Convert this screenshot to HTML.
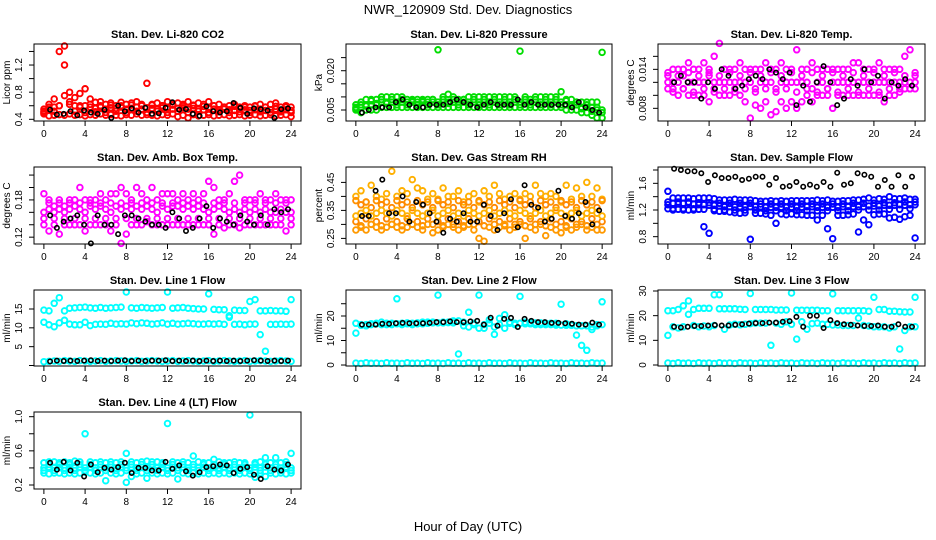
<!DOCTYPE html>
<html><head><meta charset="utf-8">
<style>
body{margin:0;background:#fff;}
svg{display:block;font-family:"Liberation Sans",Arial,sans-serif;}
</style></head>
<body>
<svg id="c" width="936" height="540" viewBox="0 0 936 540">
<text x="468" y="14" text-anchor="middle" font-size="13">NWR_120909  Std. Dev. Diagnostics</text>
<text x="468" y="531" text-anchor="middle" font-size="13">Hour of Day (UTC)</text>
</svg>
<script>
const hours = Array.from({length:49},(_,i)=>i*0.5);
const bHours = Array.from({length:36},(_,i)=>0.6+i*0.66);
const xTicks = [0,4,8,12,16,20,24];

const co2Hi=[0.55,0.62,0.70,1.40,1.48,0.80,0.72,0.78,0.85,0.70,0.65,0.66,0.62,0.64,0.60,0.65,0.62,0.64,0.66,0.62,0.93,0.62,0.64,0.60,0.66,0.62,0.64,0.62,0.66,0.60,0.64,0.62,0.66,0.60,0.62,0.58,0.60,0.62,0.58,0.60,0.58,0.60,0.62,0.58,0.62,0.64,0.58,0.60,0.58];
const co2Q=[0.50,0.58,0.52,0.60,0.75,0.66,0.52,0.60,0.50,0.62,0.51,0.60,0.50,0.61,0.52,0.60,0.50,0.61,0.52,0.60,0.50,0.61,0.52,0.60,0.50,0.61,0.52,0.60,0.50,0.61,0.52,0.59,0.50,0.60,0.51,0.58,0.50,0.59,0.51,0.58,0.50,0.59,0.51,0.58,0.50,0.59,0.51,0.58,0.50];
const co2Mid=[0.52,0.55,0.58,0.60,1.20,0.62,0.60,0.58,0.60,0.58,0.56,0.58,0.55,0.57,0.56,0.58,0.55,0.56,0.58,0.55,0.57,0.56,0.55,0.57,0.56,0.55,0.56,0.57,0.55,0.56,0.55,0.54,0.56,0.55,0.54,0.55,0.54,0.53,0.55,0.54,0.53,0.54,0.55,0.53,0.54,0.55,0.53,0.54,0.53];
const co2Lo=[0.48,0.45,0.46,0.47,0.46,0.48,0.46,0.47,0.45,0.47,0.46,0.48,0.46,0.47,0.46,0.45,0.47,0.46,0.48,0.46,0.47,0.46,0.45,0.47,0.46,0.48,0.44,0.46,0.42,0.47,0.45,0.46,0.47,0.45,0.46,0.47,0.45,0.46,0.47,0.45,0.46,0.47,0.45,0.46,0.47,0.45,0.46,0.47,0.44];
const co2Blk=[0.54,0.47,0.48,0.52,0.46,0.53,0.50,0.48,0.54,0.42,0.60,0.52,0.56,0.50,0.57,0.48,0.49,0.57,0.65,0.54,0.55,0.48,0.45,0.59,0.52,0.50,0.52,0.64,0.57,0.48,0.56,0.55,0.53,0.42,0.55,0.56];

const pHi=[0.007,0.008,0.009,0.009,0.009,0.010,0.010,0.010,0.010,0.010,0.009,0.009,0.009,0.009,0.009,0.009,0.028,0.010,0.011,0.010,0.009,0.009,0.010,0.010,0.010,0.010,0.010,0.010,0.010,0.010,0.010,0.010,0.0275,0.010,0.009,0.010,0.010,0.010,0.010,0.010,0.012,0.009,0.009,0.008,0.008,0.008,0.008,0.008,0.027];
const pQ=[0.0055,0.007,0.0065,0.0085,0.0075,0.009,0.0075,0.009,0.007,0.009,0.007,0.0085,0.007,0.0085,0.007,0.009,0.007,0.009,0.0075,0.009,0.007,0.009,0.007,0.009,0.007,0.009,0.007,0.009,0.007,0.009,0.007,0.009,0.007,0.009,0.007,0.009,0.007,0.009,0.007,0.009,0.007,0.0085,0.0065,0.008,0.0055,0.007,0.0045,0.006,0.004];
const pMid=[0.006,0.006,0.007,0.007,0.007,0.008,0.008,0.008,0.008,0.008,0.008,0.008,0.008,0.008,0.008,0.008,0.008,0.008,0.008,0.008,0.008,0.008,0.008,0.008,0.008,0.008,0.008,0.008,0.008,0.008,0.008,0.008,0.008,0.008,0.008,0.008,0.008,0.008,0.008,0.008,0.008,0.007,0.007,0.007,0.006,0.006,0.006,0.005,0.005];
const pLo=[0.005,0.004,0.005,0.005,0.005,0.006,0.006,0.006,0.006,0.006,0.006,0.006,0.006,0.006,0.006,0.006,0.006,0.006,0.006,0.006,0.006,0.006,0.006,0.006,0.006,0.006,0.006,0.006,0.006,0.006,0.006,0.006,0.006,0.006,0.006,0.006,0.006,0.006,0.006,0.006,0.006,0.005,0.005,0.005,0.004,0.004,0.003,0.002,0.002];
const pBlk=[0.004,0.005,0.006,0.006,0.006,0.008,0.009,0.007,0.006,0.006,0.007,0.007,0.007,0.008,0.009,0.008,0.007,0.006,0.007,0.008,0.007,0.007,0.007,0.009,0.007,0.008,0.007,0.007,0.007,0.007,0.007,0.006,0.008,0.006,0.005,0.004];

const tHi=[0.013,0.014,0.014,0.014,0.015,0.014,0.014,0.015,0.014,0.016,0.018,0.014,0.014,0.014,0.015,0.014,0.014,0.014,0.014,0.015,0.014,0.014,0.015,0.014,0.014,0.017,0.014,0.014,0.015,0.014,0.014,0.014,0.014,0.014,0.014,0.014,0.015,0.015,0.014,0.014,0.014,0.015,0.014,0.014,0.014,0.014,0.016,0.017,0.013];
const tQ=[0.0135,0.0105,0.013,0.011,0.0135,0.0105,0.013,0.011,0.0135,0.0105,0.013,0.011,0.0135,0.0105,0.013,0.011,0.0135,0.0105,0.013,0.011,0.0135,0.0105,0.013,0.011,0.0135,0.0105,0.013,0.011,0.0135,0.0105,0.013,0.011,0.0135,0.0105,0.013,0.011,0.0135,0.0105,0.013,0.011,0.0135,0.0105,0.013,0.011,0.0135,0.0105,0.013,0.011,0.0135];
const tMid=[0.012,0.012,0.012,0.013,0.012,0.012,0.012,0.012,0.013,0.012,0.012,0.012,0.012,0.012,0.012,0.012,0.012,0.011,0.012,0.012,0.012,0.011,0.012,0.012,0.012,0.012,0.012,0.012,0.011,0.012,0.012,0.011,0.012,0.012,0.012,0.012,0.012,0.012,0.012,0.012,0.012,0.012,0.012,0.012,0.012,0.012,0.012,0.012,0.012];
const tLo=[0.011,0.011,0.010,0.011,0.010,0.010,0.010,0.010,0.009,0.011,0.010,0.010,0.010,0.011,0.010,0.009,0.0065,0.0085,0.008,0.009,0.007,0.0075,0.009,0.008,0.009,0.008,0.009,0.010,0.009,0.010,0.010,0.010,0.008,0.010,0.010,0.010,0.010,0.010,0.010,0.010,0.010,0.010,0.009,0.010,0.010,0.011,0.011,0.011,0.011];
const tBlk=[0.012,0.013,0.012,0.012,0.0095,0.012,0.011,0.014,0.013,0.011,0.0115,0.0125,0.013,0.0125,0.014,0.0135,0.0125,0.0135,0.0085,0.0115,0.009,0.012,0.0145,0.012,0.0085,0.0095,0.0125,0.0115,0.014,0.012,0.013,0.0095,0.012,0.0115,0.0125,0.0115];

const aHi=[0.19,0.18,0.17,0.18,0.17,0.18,0.18,0.20,0.18,0.18,0.18,0.19,0.18,0.19,0.19,0.20,0.19,0.18,0.20,0.19,0.18,0.20,0.18,0.19,0.19,0.19,0.18,0.19,0.18,0.19,0.18,0.19,0.21,0.20,0.18,0.18,0.19,0.21,0.22,0.18,0.18,0.18,0.19,0.18,0.18,0.19,0.18,0.18,0.18];
const aQ=[0.15,0.175,0.15,0.175,0.15,0.175,0.15,0.175,0.15,0.175,0.15,0.175,0.15,0.175,0.15,0.175,0.15,0.175,0.15,0.175,0.15,0.175,0.15,0.175,0.15,0.175,0.15,0.175,0.15,0.175,0.15,0.175,0.15,0.175,0.15,0.175,0.15,0.175,0.15,0.175,0.15,0.175,0.15,0.175,0.15,0.175,0.15,0.175,0.15];
const aMid=[0.16,0.165,0.16,0.165,0.16,0.165,0.17,0.165,0.16,0.17,0.165,0.17,0.165,0.16,0.17,0.165,0.17,0.165,0.17,0.165,0.17,0.165,0.16,0.17,0.165,0.17,0.17,0.165,0.17,0.165,0.17,0.165,0.16,0.165,0.17,0.165,0.16,0.165,0.16,0.165,0.16,0.165,0.16,0.165,0.16,0.16,0.165,0.16,0.16];
const aLo=[0.14,0.13,0.14,0.125,0.14,0.14,0.14,0.14,0.13,0.14,0.14,0.14,0.14,0.13,0.14,0.11,0.125,0.14,0.14,0.14,0.145,0.14,0.14,0.14,0.14,0.14,0.14,0.14,0.14,0.14,0.14,0.14,0.14,0.125,0.14,0.135,0.14,0.14,0.135,0.14,0.14,0.14,0.14,0.14,0.14,0.14,0.14,0.13,0.14];
const aBlk=[0.155,0.135,0.145,0.15,0.155,0.14,0.11,0.155,0.14,0.14,0.125,0.155,0.155,0.15,0.145,0.14,0.14,0.135,0.16,0.15,0.13,0.135,0.15,0.17,0.135,0.15,0.145,0.14,0.155,0.145,0.14,0.155,0.14,0.165,0.16,0.165];

const rHi=[0.40,0.42,0.38,0.44,0.40,0.39,0.41,0.49,0.40,0.42,0.41,0.46,0.43,0.42,0.39,0.41,0.39,0.43,0.40,0.40,0.42,0.38,0.40,0.41,0.38,0.42,0.40,0.44,0.41,0.39,0.40,0.41,0.39,0.41,0.40,0.44,0.41,0.40,0.41,0.40,0.38,0.44,0.39,0.43,0.40,0.45,0.40,0.43,0.39];
const rQ=[0.31,0.37,0.32,0.36,0.31,0.37,0.32,0.36,0.31,0.37,0.32,0.36,0.31,0.37,0.32,0.36,0.31,0.37,0.32,0.36,0.31,0.37,0.32,0.36,0.31,0.37,0.32,0.36,0.31,0.37,0.32,0.36,0.31,0.37,0.32,0.36,0.31,0.37,0.32,0.36,0.31,0.37,0.32,0.36,0.31,0.37,0.32,0.36,0.31];
const rQ2=[0.385,0.295,0.38,0.30,0.385,0.295,0.38,0.30,0.385,0.295,0.38,0.30,0.385,0.295,0.38,0.30,0.385,0.295,0.38,0.30,0.385,0.295,0.38,0.30,0.385,0.295,0.38,0.30,0.385,0.295,0.38,0.30,0.385,0.295,0.38,0.30,0.385,0.295,0.38,0.30,0.385,0.295,0.38,0.30,0.385,0.295,0.38,0.30,0.385];
const rMid=[0.33,0.34,0.35,0.33,0.34,0.35,0.34,0.33,0.35,0.34,0.33,0.35,0.34,0.33,0.34,0.35,0.33,0.34,0.35,0.33,0.34,0.33,0.35,0.34,0.33,0.34,0.35,0.33,0.34,0.35,0.34,0.33,0.35,0.34,0.33,0.34,0.35,0.33,0.34,0.35,0.34,0.33,0.34,0.35,0.33,0.34,0.35,0.34,0.33];
const rLo=[0.28,0.29,0.28,0.30,0.29,0.28,0.29,0.30,0.29,0.28,0.29,0.30,0.29,0.28,0.30,0.27,0.28,0.29,0.30,0.29,0.28,0.29,0.30,0.28,0.25,0.24,0.29,0.28,0.29,0.30,0.28,0.29,0.30,0.25,0.29,0.28,0.30,0.26,0.29,0.28,0.27,0.29,0.28,0.29,0.30,0.28,0.29,0.28,0.28];
const rBlk=[0.33,0.33,0.42,0.46,0.34,0.34,0.40,0.31,0.38,0.37,0.34,0.31,0.27,0.32,0.31,0.34,0.31,0.31,0.37,0.33,0.28,0.34,0.39,0.29,0.44,0.37,0.36,0.31,0.32,0.42,0.33,0.32,0.34,0.38,0.30,0.35];

const sHi=[1.48,1.38,1.38,1.38,1.38,1.37,1.38,1.38,1.38,1.37,1.35,1.35,1.35,1.36,1.35,1.35,1.35,1.34,1.33,1.33,1.34,1.33,1.34,1.33,1.34,1.34,1.34,1.34,1.34,1.35,1.34,1.35,1.33,1.33,1.34,1.34,1.35,1.35,1.36,1.38,1.35,1.37,1.36,1.40,1.37,1.37,1.38,1.36,1.36];
const sQ=[1.32,1.22,1.32,1.22,1.32,1.22,1.31,1.21,1.31,1.21,1.30,1.20,1.30,1.20,1.30,1.20,1.30,1.20,1.29,1.19,1.29,1.19,1.29,1.19,1.29,1.19,1.29,1.19,1.29,1.19,1.29,1.19,1.29,1.19,1.29,1.19,1.30,1.20,1.30,1.20,1.30,1.20,1.31,1.21,1.31,1.21,1.32,1.22,1.32];
const sMid=[1.28,1.30,1.29,1.30,1.30,1.29,1.28,1.28,1.27,1.27,1.26,1.25,1.25,1.25,1.25,1.25,1.25,1.25,1.25,1.24,1.24,1.24,1.24,1.24,1.24,1.24,1.24,1.25,1.25,1.24,1.24,1.24,1.24,1.24,1.25,1.25,1.25,1.25,1.25,1.26,1.26,1.26,1.27,1.27,1.27,1.28,1.27,1.28,1.28];
const sLo=[1.22,1.20,1.21,1.20,1.20,1.20,1.21,0.95,0.85,1.19,1.18,1.18,1.17,1.16,1.15,1.16,0.76,1.15,1.15,1.14,1.12,1.00,1.14,1.13,1.14,1.13,1.13,1.12,1.12,1.05,1.12,0.92,0.77,1.12,1.12,1.13,1.14,0.87,1.05,0.98,1.13,1.14,1.14,1.08,1.09,1.06,1.10,1.12,0.78];
const sBlk=[1.82,1.80,1.78,1.78,1.75,1.62,1.72,1.68,1.68,1.70,1.65,1.67,1.70,1.70,1.58,1.68,1.55,1.56,1.62,1.55,1.58,1.55,1.62,1.55,1.76,1.58,1.60,1.75,1.73,1.70,1.55,1.65,1.55,1.72,1.55,1.70];

const l1A=[14.7,14.5,16.5,18,14.5,15.2,15.3,15.4,15.5,15.3,15.2,15.4,15.2,15.3,15.4,15.5,19.5,15.3,15.2,15.4,15.3,15.2,15.3,15.4,19.5,15.2,15.3,15.4,15.2,15.1,15.0,15.0,19.0,14.9,14.8,14.8,13.2,14.7,14.6,14.6,17,17.5,14.5,14.5,14.6,14.5,14.5,14.4,17.5];
const l1B=[11.5,10.8,10.3,11.3,12.0,11.0,10.8,10.8,11.5,10.6,10.9,11.0,10.9,11.2,11.0,11.1,11.0,11.3,11.1,11.3,11.2,11.0,11.1,11.3,11.0,11.2,11.0,11.1,11.2,11.1,11.0,11.0,11.1,11.0,11.1,10.9,12.8,10.9,11.0,10.8,11.0,11.0,8.2,3.8,10.9,10.9,11.0,10.9,11.0];
const l1C=[1.0,1.1,1.2,1.1,1.3,1.2,1.1,1.3,1.2,1.1,1.2,1.3,1.1,1.2,1.3,1.2,1.1,1.2,1.3,1.1,1.2,1.3,1.2,1.1,1.2,1.3,1.1,1.2,1.3,1.2,1.1,1.2,1.3,1.1,1.2,1.3,1.2,1.1,1.2,1.3,1.1,1.2,1.3,1.2,1.1,1.2,1.3,1.2,1.1];
const l1Blk=[1.1,1.3,1.2,1.3,1.2,1.3,1.4,1.2,1.3,1.2,1.3,1.4,1.2,1.3,1.2,1.3,1.3,1.4,1.2,1.3,1.2,1.3,1.2,1.3,1.2,1.3,1.2,1.3,1.2,1.3,1.4,1.3,1.2,1.3,1.2,1.3];

const l2A=[17,16.5,16.5,16.8,17,17.5,17,17,16.8,17,17.2,17,17.2,17.5,17.5,17.5,28.5,17.5,17.5,18,18,17.5,21.5,16.5,28.5,15,18.5,12.5,19,15,17.5,17,28,17.5,17.3,17.2,17.2,17,17,17,24.8,16.8,16.5,12.2,8,6,14.5,16.5,25.8];
const l2B=[13,16.2,16,16.5,16.8,16.5,16.5,16.5,27,16.5,16.8,16.5,16.8,16.8,17,17.2,17.2,17.2,17.3,17.2,4.5,16,15.5,17,15,16.5,17,15.5,16.5,20.5,17,16.5,17,16.8,16.8,16.5,16.5,16.5,16.5,16.3,16.3,16.2,16.2,16,16,16,15.5,16,16.5];
const l2C=[0.8,0.6,0.9,0.7,0.8,0.6,0.9,0.7,0.8,0.6,0.9,0.7,0.8,0.6,0.9,0.7,0.8,0.6,0.9,0.7,0.8,0.6,0.9,0.7,0.8,0.6,0.9,0.7,0.8,0.6,0.9,0.7,0.8,0.6,0.9,0.7,0.8,0.6,0.9,0.7,0.8,0.6,0.9,0.7,0.8,0.6,0.9,0.7,0.8];
const l2Blk=[16.5,16.5,16.5,16.8,16.8,17,17.2,17,17,17,17.2,17.5,17.5,17.8,17.5,17.5,17.8,18,16.5,19.3,16,18.8,19.2,15.5,18.8,18,17.5,17.5,17.2,17.2,17,16.8,16.5,16.5,17.3,16.5];

const l3A=[22,22,22.5,24,26,22.5,23,23,23,28.5,22.8,22.8,22.8,22.8,22.6,22.5,29,22.5,22.5,22.5,22.5,22.3,22.3,22.3,29.2,22.2,22.2,22.2,22.2,22.2,22,22,28.8,22,22,22,22,22,22,21.8,27.5,22.5,22.5,21.8,21.8,21.6,21.5,21.5,27.5];
const l3B=[12,15.5,15,15.5,20.5,16,15.5,15.8,15.5,16,28.5,14.5,16.2,16.5,16.3,16.5,16.8,17,17,17,8,17,16.5,17.5,16.5,10.5,17.5,14.5,16.8,17,16.5,16.5,16.2,16.2,16,16,16,19,16,15.8,15.5,15.5,15.5,15,15.5,6.5,14,15.5,15.5];
const l3C=[0.8,0.6,0.9,0.7,0.8,0.6,0.9,0.7,0.8,0.6,0.9,0.7,0.8,0.6,0.9,0.7,0.8,0.6,0.9,0.7,0.8,0.6,0.9,0.7,0.8,0.6,0.9,0.7,0.8,0.6,0.9,0.7,0.8,0.6,0.9,0.7,0.8,0.6,0.9,0.7,0.8,0.6,0.9,0.7,0.8,0.6,0.9,0.7,0.8];
const l3Blk=[15.5,15.2,15.5,15.8,15.8,16,16.2,16,16,16.3,16.5,16.8,17,17,17.2,17.2,17.5,17.8,19.5,15.5,20,20,15,18.2,17,16.5,16.3,16,15.8,15.8,16,15.5,15.5,16.5,15.5,15.5];

const l4A=[0.46,0.47,0.47,0.46,0.47,0.46,0.48,0.47,0.8,0.47,0.46,0.47,0.46,0.47,0.46,0.47,0.57,0.47,0.46,0.47,0.48,0.47,0.47,0.46,0.92,0.47,0.46,0.47,0.46,0.54,0.47,0.46,0.46,0.50,0.47,0.46,0.46,0.47,0.46,0.46,1.02,0.46,0.47,0.52,0.46,0.52,0.46,0.47,0.57];
const l4Q=[0.37,0.44,0.37,0.44,0.37,0.44,0.37,0.44,0.37,0.44,0.37,0.44,0.37,0.44,0.37,0.44,0.37,0.44,0.37,0.44,0.37,0.44,0.37,0.44,0.37,0.44,0.37,0.44,0.37,0.44,0.37,0.44,0.37,0.44,0.37,0.44,0.37,0.44,0.37,0.44,0.37,0.44,0.37,0.44,0.37,0.44,0.37,0.44,0.37];
const l4B=[0.40,0.41,0.40,0.41,0.40,0.41,0.40,0.41,0.40,0.41,0.40,0.41,0.40,0.41,0.40,0.41,0.40,0.41,0.40,0.41,0.40,0.41,0.40,0.41,0.40,0.41,0.40,0.41,0.40,0.41,0.40,0.41,0.40,0.41,0.40,0.41,0.40,0.41,0.40,0.41,0.40,0.41,0.40,0.41,0.40,0.41,0.40,0.41,0.40];
const l4C=[0.34,0.33,0.34,0.34,0.33,0.34,0.33,0.34,0.35,0.34,0.33,0.34,0.25,0.34,0.33,0.34,0.23,0.30,0.33,0.34,0.28,0.34,0.33,0.34,0.33,0.34,0.27,0.34,0.33,0.34,0.33,0.34,0.33,0.34,0.33,0.34,0.33,0.34,0.33,0.34,0.33,0.29,0.34,0.30,0.34,0.33,0.34,0.33,0.34];
const l4Blk=[0.46,0.38,0.47,0.37,0.46,0.30,0.44,0.35,0.40,0.38,0.41,0.46,0.34,0.40,0.40,0.37,0.37,0.47,0.39,0.43,0.36,0.31,0.35,0.41,0.42,0.44,0.43,0.34,0.39,0.41,0.32,0.27,0.42,0.38,0.37,0.44];

const svg=document.getElementById('c');
const NS='http://www.w3.org/2000/svg';
function mk(tag,attrs,parent){const e=document.createElementNS(NS,tag);for(const k in attrs)e.setAttribute(k,attrs[k]);(parent||svg).appendChild(e);return e;}

const cols=[[34,301],[346,612],[658,925]];
const rows=[[44,121],[167,244],[290,366],[412,489]];
const panels=[
 {id:'co2',title:'Stan. Dev. Li-820 CO2',ylab:'Licor ppm',c:0,r:0,yl:[0.375,1.51],ticks:[0.4,0.6,0.8,1.0,1.2,1.4],labs:['0.4','','0.8','','1.2',''],series:[[hours,co2Hi,'#ff0000'],[hours,co2Q,'#ff0000'],[hours,co2Mid,'#ff0000'],[hours,co2Lo,'#ff0000'],[bHours,co2Blk,'#000']]},
 {id:'pressure',title:'Stan. Dev. Li-820 Pressure',ylab:'kPa',c:1,r:0,yl:[0.0008,0.0302],ticks:[0.005,0.010,0.015,0.020,0.025],labs:['0.005','','','0.020',''],series:[[hours,pHi,'#00dd00'],[hours,pQ,'#00dd00'],[hours,pMid,'#00dd00'],[hours,pLo,'#00dd00'],[bHours,pBlk,'#000']]},
 {id:'li820-temp',title:'Stan. Dev. Li-820 Temp.',ylab:'degrees C',c:2,r:0,yl:[0.00605,0.0179],ticks:[0.008,0.010,0.012,0.014,0.016],labs:['0.008','','','0.014',''],series:[[hours,tHi,'#ff00ff'],[hours,tQ,'#ff00ff'],[hours,tMid,'#ff00ff'],[hours,tLo,'#ff00ff'],[bHours,tBlk,'#000']]},
 {id:'amb-box-temp',title:'Stan. Dev. Amb. Box Temp.',ylab:'degrees C',c:0,r:1,yl:[0.109,0.233],ticks:[0.12,0.14,0.16,0.18,0.20,0.22],labs:['0.12','','','0.18','',''],series:[[hours,aHi,'#ff00ff'],[hours,aQ,'#ff00ff'],[hours,aMid,'#ff00ff'],[hours,aLo,'#ff00ff'],[bHours,aBlk,'#000']]},
 {id:'gas-stream-rh',title:'Stan. Dev. Gas Stream RH',ylab:'percent',c:1,r:1,yl:[0.23,0.505],ticks:[0.25,0.30,0.35,0.40,0.45],labs:['0.25','','0.35','','0.45'],series:[[hours,rHi,'#ffb000'],[hours,rQ2,'#ff9000'],[hours,rQ,'#ff8800'],[hours,rMid,'#ffb000'],[hours,rLo,'#ff9900'],[bHours,rBlk,'#000']]},
 {id:'sample-flow',title:'Stan. Dev. Sample Flow',ylab:'ml/min',c:2,r:1,yl:[0.69,1.845],ticks:[0.8,1.0,1.2,1.4,1.6,1.8],labs:['0.8','','1.2','','1.6',''],series:[[hours,sHi,'#0000ff'],[hours,sQ,'#0000ff'],[hours,sMid,'#0000ff'],[hours,sLo,'#0000ff'],[bHours,sBlk,'#000']]},
 {id:'line1-flow',title:'Stan. Dev. Line 1 Flow',ylab:'ml/min',c:0,r:2,yl:[-0.13,20.04],ticks:[0,5,10,15],labs:['','5','10','15'],series:[[hours,l1A,'#00ffff'],[hours,l1B,'#00ffff'],[hours,l1C,'#00ffff'],[bHours,l1Blk,'#000']]},
 {id:'line2-flow',title:'Stan. Dev. Line 2 Flow',ylab:'ml/min',c:1,r:2,yl:[-0.4,30.6],ticks:[0,5,10,15,20,25],labs:['0','','10','','20',''],series:[[hours,l2A,'#00ffff'],[hours,l2B,'#00ffff'],[hours,l2C,'#00ffff'],[bHours,l2Blk,'#000']]},
 {id:'line3-flow',title:'Stan. Dev. Line 3 Flow',ylab:'ml/min',c:2,r:2,yl:[-0.4,30.4],ticks:[0,10,20,30],labs:['0','10','20','30'],series:[[hours,l3A,'#00ffff'],[hours,l3B,'#00ffff'],[hours,l3C,'#00ffff'],[bHours,l3Blk,'#000']]},
 {id:'line4-flow',title:'Stan. Dev. Line 4 (LT) Flow',ylab:'ml/min',c:0,r:3,yl:[0.153,1.055],ticks:[0.2,0.4,0.6,0.8,1.0],labs:['0.2','','0.6','','1.0'],series:[[hours,l4A,'#00ffff'],[hours,l4Q,'#00ffff'],[hours,l4B,'#00ffff'],[hours,l4C,'#00ffff'],[bHours,l4Blk,'#000']]}
];

panels.forEach(p=>{
  const [L,R]=cols[p.c],[T,B]=rows[p.r];
  const g=mk('g',{});
  
  
  const xs=v=>L+(v+0.96)/25.92*(R-L);
  const ys=v=>B-(v-p.yl[0])/(p.yl[1]-p.yl[0])*(B-T);
  const t=mk('text',{x:(L+R)/2,y:T-6,'text-anchor':'middle','font-size':11,'font-weight':'bold'},g);
  t.textContent=p.title;
  
  
  const clip=mk('g',{},g);
  p.series.forEach(s=>{
    const [xa,va,col]=s;
    const n=Math.min(xa.length,va.length);
    for(let i=0;i<n;i++){
      const y=ys(va[i]);
      if(y<T-3||y>B+3)continue;
      const blk=col==='#000';
      const c=mk('circle',{cx:xs(xa[i]).toFixed(1),cy:y.toFixed(1),r:blk?2.2:2.8,fill:'none',stroke:col,'stroke-width':blk?1.6:1.9},clip);
      
      
    }
  });
  const box=mk('rect',{x:L,y:T,width:R-L,height:B-T,fill:'none',stroke:'#000','stroke-width':1},g);
  
  
  xTicks.forEach(v=>{
    const x=xs(v);
    mk('line',{x1:x,x2:x,y1:B,y2:B+5,stroke:'#000'},g);
    const tl=mk('text',{x:x,y:B+16,'text-anchor':'middle','font-size':10},g);
    tl.textContent=v;
    
    
  });
  p.ticks.forEach((v,i)=>{
    const y=ys(v);
    mk('line',{x1:L-5,x2:L,y1:y,y2:y,stroke:'#000'},g);
    const lab=p.labs[i];
    if(lab){
      const tl=mk('text',{x:L-12,y:y,'text-anchor':'middle','font-size':10,transform:`rotate(-90 ${L-12} ${y})`},g);
      tl.textContent=lab;
      
      
    }
  });
  const yt=mk('text',{x:L-24,y:(T+B)/2,'text-anchor':'middle','font-size':10,transform:`rotate(-90 ${L-24} ${(T+B)/2})`},g);
  yt.textContent=p.ylab;
  
  
});
</script>
</body></html>
